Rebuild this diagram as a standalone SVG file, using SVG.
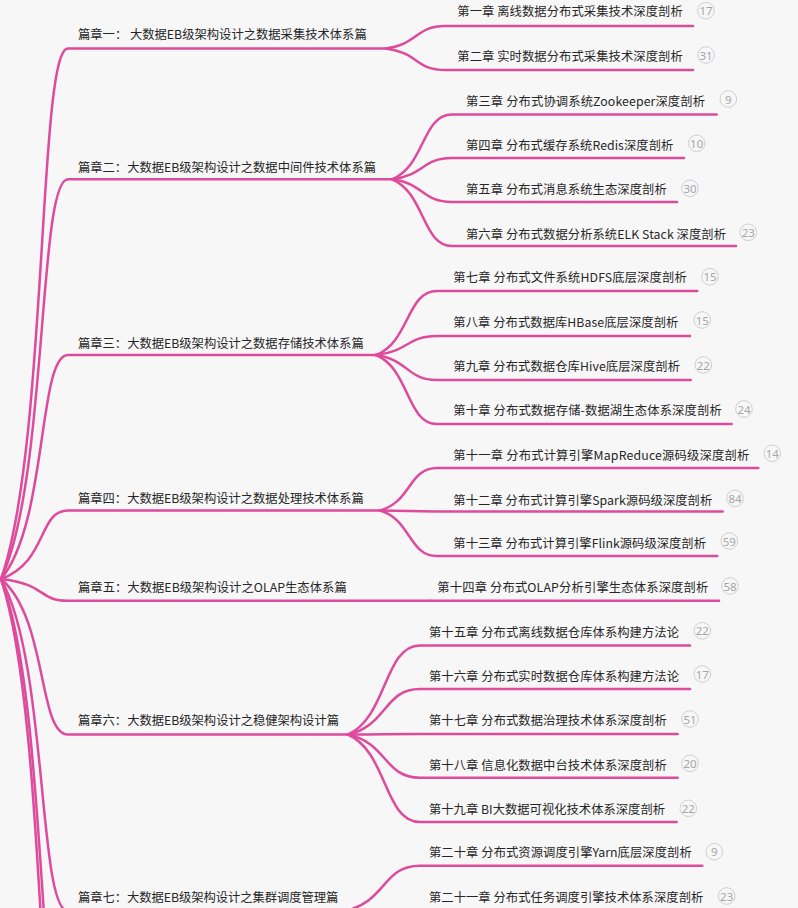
<svg xmlns="http://www.w3.org/2000/svg" width="798" height="908" viewBox="0 0 798 908">
<style>
.bg{fill:#f7f7f7}
.c{fill:none;stroke:#de4a9c;stroke-width:2.5;stroke-linecap:round}
.t{font-family:"Noto Sans CJK SC","Noto Sans",sans-serif;font-size:12.3px;fill:#262626;dominant-baseline:central}
.b circle{fill:#f7f7f7;stroke:#cfcfcf;stroke-width:1}
.b text{font-family:"Noto Sans","Liberation Sans",sans-serif;font-size:11.5px;fill:#a6a6a6;text-anchor:middle;dominant-baseline:central}
</style>
<rect class="bg" x="0" y="0" width="798" height="908"/>
<g id="connectors">
<path class="c" d="M1 579 C47.9 446.4 37.85 48.5 68 48.5 H386"/>
<path class="c" d="M1 579 C47.9 479.1 37.85 179.3 68 179.3 H392"/>
<path class="c" d="M1 579 C47.9 523 37.85 355 68 355 H376"/>
<path class="c" d="M1 579 C47.9 561.9 37.85 510.5 68 510.5 H380"/>
<path class="c" d="M1 579 C47.9 584.5 37.85 600.8 68 600.8 H430"/>
<path class="c" d="M1 579 C47.9 618 37.85 734.5 68 734.5 H348"/>
<path class="c" d="M1 579 C47.9 662 37.85 911 68 911 H345"/>
<path class="c" d="M1 579 C47.9 700 37.85 1063 68 1063 H300"/>
<path class="c" d="M1 579 C47.9 720.75 37.85 1146 68 1146 H300"/>
<path class="c" d="M386 48.5 C418.45 44 415.5 26 445 26 H693"/>
<path class="c" d="M386 48.5 C418.45 52.8 415.5 70 445 70 H693"/>
<path class="c" d="M392 179.3 C425 166.3 422 114.5 452 114.5 H716.7"/>
<path class="c" d="M392 179.3 C425 175 422 158 452 158 H684"/>
<path class="c" d="M392 179.3 C425 183.8 422 202 452 202 H677"/>
<path class="c" d="M392 179.3 C425 192.6 422 246 452 246 H736"/>
<path class="c" d="M376 355 C409.55 342.2 406.5 291 437 291 H697.3"/>
<path class="c" d="M376 355 C409.55 351.2 406.5 336 437 336 H690"/>
<path class="c" d="M376 355 C409.55 360 406.5 380 437 380 H690.7"/>
<path class="c" d="M376 355 C409.55 368.8 406.5 424 437 424 H731.7"/>
<path class="c" d="M380 510.5 C411.35 502 408.5 468 437 468 H758.3"/>
<path class="c" d="M380 510.5 C411.35 510.7 408.5 511.5 437 511.5 H722.7"/>
<path class="c" d="M380 510.5 C411.35 519.6 408.5 556 437 556 H717.3"/>
<path class="c" d="M430 600.8 H719"/>
<path class="c" d="M348 734.5 C387.6 716.7 384 645.5 420 645.5 H690"/>
<path class="c" d="M348 734.5 C387.6 725.4 384 689 420 689 H690"/>
<path class="c" d="M348 734.5 C387.6 734.4 384 734 420 734 H677.7"/>
<path class="c" d="M348 734.5 C387.6 743.1 384 777.7 420 777.7 H677.7"/>
<path class="c" d="M348 734.5 C387.6 752 384 822 420 822 H676.7"/>
<path class="c" d="M345 911 C386.25 901.9 382.5 865.7 420 865.7 H702.3"/>
<path class="c" d="M345 911 C386.25 910.9 382.5 910.5 420 910.5 H714"/>
</g>
<g id="part1"><text class="t" x="78" y="33.8" textLength="288.7" lengthAdjust="spacing">篇章一： 大数据EB级架构设计之数据采集技术体系篇</text></g>
<g id="part2"><text class="t" x="78" y="166.7" textLength="298" lengthAdjust="spacing">篇章二：大数据EB级架构设计之数据中间件技术体系篇</text></g>
<g id="part3"><text class="t" x="78" y="343" textLength="285.7" lengthAdjust="spacing">篇章三：大数据EB级架构设计之数据存储技术体系篇</text></g>
<g id="part4"><text class="t" x="78" y="498" textLength="285.7" lengthAdjust="spacing">篇章四：大数据EB级架构设计之数据处理技术体系篇</text></g>
<g id="part5"><text class="t" x="78" y="587" textLength="268.7" lengthAdjust="spacing">篇章五：大数据EB级架构设计之OLAP生态体系篇</text></g>
<g id="part6"><text class="t" x="78" y="720" textLength="261" lengthAdjust="spacing">篇章六：大数据EB级架构设计之稳健架构设计篇</text></g>
<g id="part7"><text class="t" x="78" y="897" textLength="260.3" lengthAdjust="spacing">篇章七：大数据EB级架构设计之集群调度管理篇</text></g>

<g id="ch1"><text class="t" x="457.3" y="11.3" textLength="225.4" lengthAdjust="spacing">第一章 离线数据分布式采集技术深度剖析</text><g class="b"><circle cx="706" cy="10.7" r="8.3"/><text x="706" y="10.7">17</text></g></g>
<g id="ch2"><text class="t" x="457.3" y="55.5" textLength="225.4" lengthAdjust="spacing">第二章 实时数据分布式采集技术深度剖析</text><g class="b"><circle cx="706" cy="55" r="8.3"/><text x="706" y="55">31</text></g></g>
<g id="ch3"><text class="t" x="466" y="101" textLength="239" lengthAdjust="spacing">第三章 分布式协调系统Zookeeper深度剖析</text><g class="b"><circle cx="728.3" cy="99" r="8.3"/><text x="728.3" y="99">9</text></g></g>
<g id="ch4"><text class="t" x="466" y="144.5" textLength="207.3" lengthAdjust="spacing">第四章 分布式缓存系统Redis深度剖析</text><g class="b"><circle cx="696.7" cy="143.3" r="8.3"/><text x="696.7" y="143.3">10</text></g></g>
<g id="ch5"><text class="t" x="466" y="188.5" textLength="200.7" lengthAdjust="spacing">第五章 分布式消息系统生态深度剖析</text><g class="b"><circle cx="690" cy="188.3" r="8.3"/><text x="690" y="188.3">30</text></g></g>
<g id="ch6"><text class="t" x="466" y="233.5" textLength="260" lengthAdjust="spacing">第六章 分布式数据分析系统ELK Stack 深度剖析</text><g class="b"><circle cx="748.3" cy="232.3" r="8.3"/><text x="748.3" y="232.3">23</text></g></g>
<g id="ch7"><text class="t" x="453.3" y="277" textLength="233.4" lengthAdjust="spacing">第七章 分布式文件系统HDFS底层深度剖析</text><g class="b"><circle cx="710" cy="276.7" r="8.3"/><text x="710" y="276.7">15</text></g></g>
<g id="ch8"><text class="t" x="453.3" y="321.5" textLength="225" lengthAdjust="spacing">第八章 分布式数据库HBase底层深度剖析</text><g class="b"><circle cx="702.3" cy="320" r="8.3"/><text x="702.3" y="320">15</text></g></g>
<g id="ch9"><text class="t" x="453.3" y="366" textLength="226.7" lengthAdjust="spacing">第九章 分布式数据仓库Hive底层深度剖析</text><g class="b"><circle cx="703.3" cy="365" r="8.3"/><text x="703.3" y="365">22</text></g></g>
<g id="ch10"><text class="t" x="453.3" y="409.5" textLength="268.4" lengthAdjust="spacing">第十章 分布式数据存储-数据湖生态体系深度剖析</text><g class="b"><circle cx="744" cy="409" r="8.3"/><text x="744" y="409">24</text></g></g>
<g id="ch11"><text class="t" x="453.3" y="454.5" textLength="296" lengthAdjust="spacing">第十一章 分布式计算引擎MapReduce源码级深度剖析</text><g class="b"><circle cx="772.3" cy="453.3" r="8.3"/><text x="772.3" y="453.3">14</text></g></g>
<g id="ch12"><text class="t" x="453.3" y="499.5" textLength="259" lengthAdjust="spacing">第十二章 分布式计算引擎Spark源码级深度剖析</text><g class="b"><circle cx="735" cy="498.3" r="8.3"/><text x="735" y="498.3">84</text></g></g>
<g id="ch13"><text class="t" x="453.3" y="542.5" textLength="252.7" lengthAdjust="spacing">第十三章 分布式计算引擎Flink源码级深度剖析</text><g class="b"><circle cx="729.3" cy="541" r="8.3"/><text x="729.3" y="541">59</text></g></g>
<g id="ch14"><text class="t" x="437.3" y="587" textLength="271" lengthAdjust="spacing">第十四章 分布式OLAP分析引擎生态体系深度剖析</text><g class="b"><circle cx="730" cy="586" r="8.3"/><text x="730" y="586">58</text></g></g>
<g id="ch15"><text class="t" x="429" y="632" textLength="250" lengthAdjust="spacing">第十五章 分布式离线数据仓库体系构建方法论</text><g class="b"><circle cx="702.3" cy="630.7" r="8.3"/><text x="702.3" y="630.7">22</text></g></g>
<g id="ch16"><text class="t" x="429" y="675.5" textLength="250" lengthAdjust="spacing">第十六章 分布式实时数据仓库体系构建方法论</text><g class="b"><circle cx="702.3" cy="674" r="8.3"/><text x="702.3" y="674">17</text></g></g>
<g id="ch17"><text class="t" x="429" y="719.5" textLength="237.7" lengthAdjust="spacing">第十七章 分布式数据治理技术体系深度剖析</text><g class="b"><circle cx="690" cy="719" r="8.3"/><text x="690" y="719">51</text></g></g>
<g id="ch18"><text class="t" x="429" y="764.5" textLength="237.7" lengthAdjust="spacing">第十八章 信息化数据中台技术体系深度剖析</text><g class="b"><circle cx="690" cy="763.3" r="8.3"/><text x="690" y="763.3">20</text></g></g>
<g id="ch19"><text class="t" x="429" y="808.5" textLength="236" lengthAdjust="spacing">第十九章 BI大数据可视化技术体系深度剖析</text><g class="b"><circle cx="688.3" cy="808.3" r="8.3"/><text x="688.3" y="808.3">22</text></g></g>
<g id="ch20"><text class="t" x="429" y="852" textLength="262.7" lengthAdjust="spacing">第二十章 分布式资源调度引擎Yarn底层深度剖析</text><g class="b"><circle cx="714.3" cy="851.7" r="8.3"/><text x="714.3" y="851.7">9</text></g></g>
<g id="ch21"><text class="t" x="429" y="897" textLength="274.3" lengthAdjust="spacing">第二十一章 分布式任务调度引擎技术体系深度剖析</text><g class="b"><circle cx="726.7" cy="896" r="8.3"/><text x="726.7" y="896">23</text></g></g>
</svg>
